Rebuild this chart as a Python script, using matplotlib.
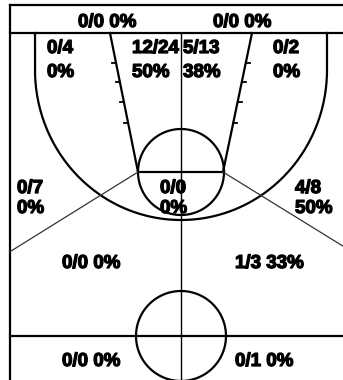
import matplotlib
matplotlib.use('Agg')
import matplotlib.pyplot as plt
import matplotlib.patheffects as pe
import numpy as np

# shot chart data: made / attempts per zone
zones = ['deep_l', 'deep_r', 'corner3_l', 'mid_l', 'mid_r', 'corner3_r',
         'wing3_l', 'paint', 'wing3_r', 'back_l', 'back_r', 'far_l', 'far_r']
made = [0, 0, 0, 12, 5, 0, 0, 0, 4, 0, 1, 0, 0]
attempts = [0, 0, 4, 24, 13, 2, 7, 0, 8, 0, 3, 0, 1]

# label placement (pixels): left x, baseline of first line, baseline of second line (None = one line)
label_pos = [(78, 27, None), (213, 27, None),
             (47, 53, 77), (132, 53, 77), (183, 53, 77), (273, 53, 77),
             (17, 193, 213), (160, 193, 213), (295, 193, 213),
             (62, 268, None), (235, 268, None),
             (62, 366, None), (235, 366, None)]

W, H = 343, 380
fig = plt.figure(figsize=(W / 100, H / 100), dpi=100)
ax = fig.add_axes([0, 0, 1, 1])
ax.set_xlim(0, W)
ax.set_ylim(H, 0)
ax.axis('off')

lw = 1.6
cx = 181
left, right, top = 9.5, 352.5, 4.5
base = 33

# outer border and baseline
ax.plot([left, left], [top, H + 5], 'k-', lw=lw)
ax.plot([left, right], [top, top], 'k-', lw=lw)
ax.plot([right, right], [top, H + 5], 'k-', lw=lw)
ax.plot([left, right], [base, base], 'k-', lw=lw)

# three point line
t = np.linspace(0, np.pi, 200)
arc_x = cx - 146 * np.cos(t)
arc_y = 70 + 150 * np.sin(t)
ax.plot(np.r_[cx - 146, arc_x, cx + 146], np.r_[base, arc_y, base], 'k-', lw=lw)

# lane
ax.plot([110, 138], [base, 172], 'k-', lw=lw)
ax.plot([252, 223], [base, 172], 'k-', lw=lw)
ax.plot([138, 223], [172, 172], 'k-', lw=lw)
for yy in [63, 82, 102, 123]:
    xl = 110 + (yy - base) * 28 / 139
    xr = 252 - (yy - base) * 29 / 139
    ax.plot([xl - 4, xl], [yy, yy], 'k-', lw=1.3)
    ax.plot([xr, xr + 4], [yy, yy], 'k-', lw=1.3)

# free throw circle
a = np.linspace(0, 2 * np.pi, 300)
ax.plot(cx + 43 * np.cos(a), 172 + 43 * np.sin(a), 'k-', lw=lw)

# center line
ax.plot([cx, cx], [base, H + 5], 'k-', lw=1.0)

# diagonals from free throw line
ax.plot([138, left], [172, 252], color='#333333', lw=0.9)
ax.plot([223, right], [172, 252], color='#333333', lw=0.9)

# half court line and center circle
ax.plot([left, right], [336, 336], 'k-', lw=lw)
ax.plot(cx + 45 * np.cos(a), 336 + 45 * np.sin(a), 'k-', lw=lw)

# labels
style = dict(fontsize=13.5, fontweight='bold', family='Liberation Sans',
             va='baseline', ha='left',
             path_effects=[pe.withStroke(linewidth=0.9, foreground='black')])
for m, n, (x, y1, y2) in zip(made, attempts, label_pos):
    pct = round(m / n * 100) if n else 0
    frac = '%d/%d' % (m, n)
    if y2 is None:
        ax.text(x, y1, '%s %d%%' % (frac, pct), **style)
    else:
        ax.text(x, y1, frac, **style)
        ax.text(x, y2, '%d%%' % pct, **style)

fig.savefig('out.png', dpi=100)
